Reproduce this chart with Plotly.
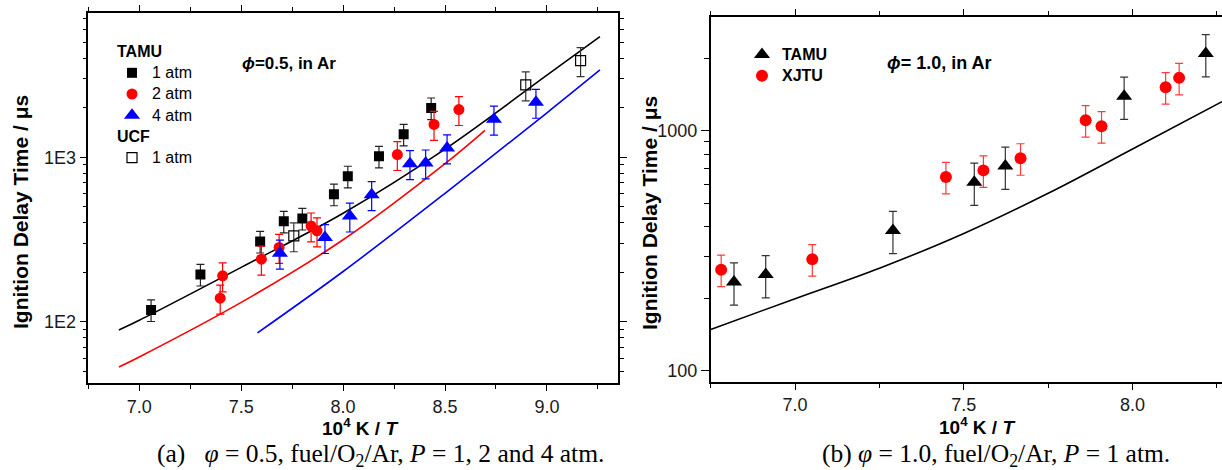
import plotly.graph_objects as go

W, H = 1222, 470

# ---------------- Panel (a): phi = 0.5 ----------------
tamu1_x = [7.058, 7.300, 7.593, 7.709, 7.800, 7.955, 8.023, 8.176, 8.297, 8.432]
tamu1_y = [118, 194, 308, 408, 425, 597, 767, 1014, 1380, 1996]
tamu2_x = [7.397, 7.409, 7.599, 7.686, 7.843, 7.872, 8.266, 8.446, 8.568]
tamu2_y = [139, 190, 240, 283, 382, 357, 1039, 1584, 1951]
tamu4_x = [7.690, 7.911, 8.033, 8.140, 8.328, 8.405, 8.510, 8.740, 8.946]
tamu4_y = [261, 325, 439, 592, 915, 923, 1140, 1705, 2160]
ucf1_x = [7.758, 8.896, 9.165]
ucf1_y = [333, 2755, 3875]

err_tamu1 = 15  # percent
err_tamu2 = 20
err_tamu4 = 20
err_ucf1 = 20

model1_x = [6.9, 7.0, 7.5, 8.0, 8.5, 9.0, 9.26]
model1_y = [89, 102, 214, 457, 1122, 3160, 5420]
model2_x = [6.9, 7.0, 7.5, 8.0, 8.5, 8.696]
model2_y = [53, 61, 131, 315, 915, 1460]
model4_x = [7.58, 8.0, 8.5, 9.0, 9.26]
model4_y = [85.5, 202, 604, 1866, 3400]

# ---------------- Panel (b): phi = 1.0 ----------------
b_tamu_x = [6.819, 6.913, 7.290, 7.531, 7.623, 7.975, 8.217]
b_tamu_y = [235, 252, 385, 612, 714, 1396, 2100]
b_xjtu_x = [6.781, 7.051, 7.447, 7.558, 7.668, 7.861, 7.908, 8.098, 8.138]
b_xjtu_y = [264, 292, 643, 685, 769, 1108, 1046, 1521, 1664]
err_b_tamu = 20
err_b_xjtu = 15
b_model_x = [6.75, 7.0, 7.25, 7.5, 7.75, 8.0, 8.265]
b_model_y = [149, 200, 268, 374, 550, 841, 1325]

x_ticks_a = [7.0, 7.5, 8.0, 8.5, 9.0]
x_ticks_b = [7.0, 7.5, 8.0]
y_ticks_a = [100, 1000]
y_ticktext_a = ["1E2", "1E3"]
y_ticks_b = [100, 1000]
y_ticktext_b = ["100", "1000"]

SANS = "Liberation Sans, Arial, sans-serif"
SERIF = "Liberation Serif, Times New Roman, serif"
BLUE = "#0000ff"
RED = "#ff0000"

fig = go.Figure()


def eb(pct, color):
    return dict(type="percent", value=pct, color=color, thickness=1.2, width=4)


# model lines panel a
fig.add_trace(go.Scatter(x=model1_x, y=model1_y, mode="lines", line=dict(color="black", width=1.6, shape="spline", smoothing=1.0),
                         showlegend=False, xaxis="x", yaxis="y"))
fig.add_trace(go.Scatter(x=model2_x, y=model2_y, mode="lines", line=dict(color=RED, width=1.6, shape="spline", smoothing=1.0),
                         showlegend=False, xaxis="x", yaxis="y"))
fig.add_trace(go.Scatter(x=model4_x, y=model4_y, mode="lines", line=dict(color=BLUE, width=1.6, shape="spline", smoothing=1.0),
                         showlegend=False, xaxis="x", yaxis="y"))

leg_txt = lambda s: "<span style='font-size:16px'>%s</span>" % s
grp_txt = lambda s: "<b><span style='font-size:16px'>%s</span></b>" % s

fig.add_trace(go.Scatter(x=tamu1_x, y=tamu1_y, mode="markers", name=leg_txt("1 atm"),
                         marker=dict(symbol="square", size=10, color="black"),
                         error_y=eb(err_tamu1, "#222222"), legendgroup="TAMU",
                         legendgrouptitle=dict(text=grp_txt("TAMU")), legend="legend", xaxis="x", yaxis="y"))
fig.add_trace(go.Scatter(x=tamu2_x, y=tamu2_y, mode="markers", name=leg_txt("2 atm"),
                         marker=dict(symbol="circle", size=11, color=RED),
                         error_y=eb(err_tamu2, RED), legendgroup="TAMU", legend="legend", xaxis="x", yaxis="y"))
fig.add_trace(go.Scatter(x=tamu4_x, y=tamu4_y, mode="markers", name=leg_txt("4 atm"),
                         marker=dict(symbol="triangle-up", size=14, color=BLUE),
                         error_y=eb(err_tamu4, BLUE), legendgroup="TAMU", legend="legend", xaxis="x", yaxis="y"))
fig.add_trace(go.Scatter(x=ucf1_x, y=ucf1_y, mode="markers", name=leg_txt("1 atm"),
                         marker=dict(symbol="square-open", size=10, color="black", line=dict(width=1.2)),
                         error_y=eb(err_ucf1, "#333333"), legendgroup="UCF",
                         legendgrouptitle=dict(text=grp_txt("UCF")), legend="legend", xaxis="x", yaxis="y"))

# panel b
fig.add_trace(go.Scatter(x=b_model_x, y=b_model_y, mode="lines", line=dict(color="black", width=1.6, shape="spline", smoothing=1.0),
                         showlegend=False, xaxis="x2", yaxis="y2"))
fig.add_trace(go.Scatter(x=b_tamu_x, y=b_tamu_y, mode="markers", name=grp_txt("TAMU"),
                         marker=dict(symbol="triangle-up", size=14, color="black"),
                         error_y=eb(err_b_tamu, "#333333"), legend="legend2", xaxis="x2", yaxis="y2"))
fig.add_trace(go.Scatter(x=b_xjtu_x, y=b_xjtu_y, mode="markers", name=grp_txt("XJTU"),
                         marker=dict(symbol="circle", size=12, color=RED),
                         error_y=eb(err_b_xjtu, "#ff3b3b"), legend="legend2", xaxis="x2", yaxis="y2"))


def minor_log(decades, lo, hi):
    vals = []
    for d in decades:
        for k in range(2, 10):
            v = k * d
            if lo <= v <= hi:
                vals.append(v)
    return vals


axis_common = dict(showgrid=False, zeroline=False, showline=True, linecolor="black", linewidth=1.5,
                   ticks="outside", tickcolor="black", tickwidth=1.3,
                   tickfont=dict(family=SANS, size=18, color="#1a1a1a"))

fig.update_layout(
    width=W, height=H, autosize=False,
    margin=dict(l=0, r=0, t=0, b=0),
    paper_bgcolor="white", plot_bgcolor="white",
    xaxis=dict(domain=[88.3 / W, 618.3 / W], anchor="y", range=[6.75, 9.35],
               tickvals=x_ticks_a, ticktext=["%.1f" % v for v in x_ticks_a], ticklen=6, mirror="ticks",
               minor=dict(tickvals=[6.75, 7.25, 7.75, 8.25, 8.75, 9.25], ticks="outside", ticklen=4, tickcolor="black", tickwidth=1.2),
               **axis_common),
    yaxis=dict(domain=[1 - 383.3 / H, 1 - 12.7 / H], anchor="x", type="log", range=[1.6253, 3.8796],
               tickvals=y_ticks_a, ticktext=y_ticktext_a, ticklen=7, mirror="ticks",
               minor=dict(tickvals=minor_log([10, 100, 1000], 42, 7500), ticks="outside", ticklen=4, tickcolor="black", tickwidth=1.2),
               **axis_common),
    xaxis2=dict(domain=[710.7 / W, 1.0], anchor="y2", range=[6.75, 8.265],
                tickvals=x_ticks_b, ticktext=["%.1f" % v for v in x_ticks_b], ticklen=6, mirror="ticks",
                minor=dict(tickvals=[6.75, 7.25, 7.75, 8.25], ticks="outside", ticklen=4, tickcolor="black", tickwidth=1.2),
                **axis_common),
    yaxis2=dict(domain=[1 - 382.0 / H, 1 - 16.7 / H], anchor="x2", type="log", range=[1.954, 3.476],
                tickvals=y_ticks_b, ticktext=y_ticktext_b, ticklen=8,
                minor=dict(tickvals=minor_log([100, 1000], 95, 2990), ticks="outside", ticklen=5, tickcolor="black", tickwidth=1.2),
                **axis_common),
    legend=dict(x=112.0 / W, y=1 - 36.0 / H, xanchor="left", yanchor="top", bgcolor="rgba(0,0,0,0)",
                font=dict(family=SANS, size=14, color="black"), tracegroupgap=0, traceorder="grouped",
                grouptitlefont=dict(family=SANS, size=14, color="black"), itemsizing="trace"),
    legend2=dict(x=742.0 / W, y=1 - 39.0 / H, xanchor="left", yanchor="top", bgcolor="rgba(0,0,0,0)",
                 font=dict(family=SANS, size=14, color="black"), itemsizing="trace"),
)

ann = []
ann.append(dict(text="<b><i>ϕ</i>=0.5, in Ar</b>", x=240 / W, y=1 - 63 / H, xref="paper", yref="paper",
                xanchor="left", yanchor="middle", showarrow=False, font=dict(family=SANS, size=17, color="black")))
ann.append(dict(text="<b><i>ϕ</i>= 1.0, in Ar</b>", x=885 / W, y=1 - 63 / H, xref="paper", yref="paper",
                xanchor="left", yanchor="middle", showarrow=False, font=dict(family=SANS, size=18, color="black")))
xt = "<b>10<sup>4</sup> K / <i>T</i></b>"
ann.append(dict(text=xt, x=360 / W, y=1 - 427 / H, xref="paper", yref="paper", xanchor="center", yanchor="middle",
                showarrow=False, font=dict(family=SANS, size=19, color="black")))
ann.append(dict(text=xt, x=977 / W, y=1 - 426 / H, xref="paper", yref="paper", xanchor="center", yanchor="middle",
                showarrow=False, font=dict(family=SANS, size=19, color="black")))
yt = "<b>Ignition Delay Time / μs</b>"
ann.append(dict(text=yt, x=20 / W, y=1 - 212 / H, xref="paper", yref="paper", xanchor="center", yanchor="middle",
                textangle=-90, showarrow=False, font=dict(family=SANS, size=21, color="black")))
ann.append(dict(text=yt, x=649 / W, y=1 - 213 / H, xref="paper", yref="paper", xanchor="center", yanchor="middle",
                textangle=-90, showarrow=False, font=dict(family=SANS, size=21, color="black")))
ann.append(dict(text="(a)\u00a0\u00a0\u00a0<i>φ</i> = 0.5, fuel/O<sub>2</sub>/Ar, <i>P</i> = 1, 2 and 4 atm.",
                x=155 / W, y=1 - 455 / H, xref="paper", yref="paper", xanchor="left", yanchor="middle",
                showarrow=False, font=dict(family=SERIF, size=25.5, color="black")))
ann.append(dict(text="(b) <i>φ</i> = 1.0, fuel/O<sub>2</sub>/Ar, <i>P</i> = 1 atm.",
                x=820 / W, y=1 - 455 / H, xref="paper", yref="paper", xanchor="left", yanchor="middle",
                showarrow=False, font=dict(family=SERIF, size=25.5, color="black")))
fig.update_layout(annotations=ann)

fig.write_html("out.html")
